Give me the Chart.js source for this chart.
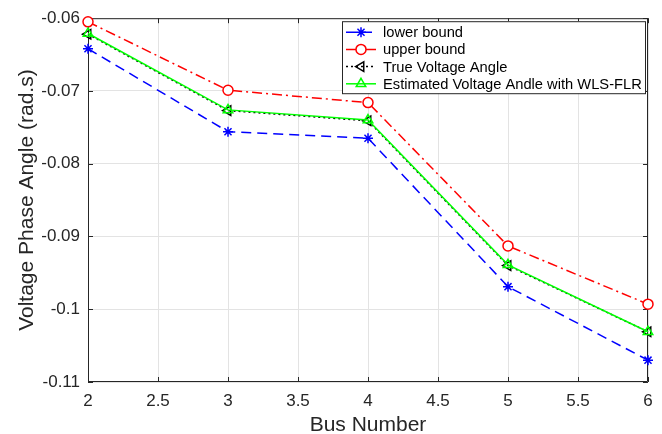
<!DOCTYPE html>
<html>
<head>
<meta charset="utf-8">
<script src="https://cdn.jsdelivr.net/npm/chart.js@4.4.0/dist/chart.umd.min.js"></script>
<style>
  html, body { margin: 0; padding: 0; background: #fff; }
  #wrap { width: 662px; height: 434px; }
</style>
</head>
<body>
<div id="wrap"><canvas id="chart" width="662" height="434"></canvas></div>
<script>
// bus numbers and angles
const busNumbers = [2, 3, 4, 5, 6];
const lowerBound = [-0.0642, -0.0756, -0.0765, -0.0969, -0.1070];
const upperBound = [-0.0605, -0.0699, -0.0716, -0.0913, -0.0993];
const trueAngle = [-0.0622, -0.0727, -0.0741, -0.0940, -0.1031];
const estimatedAngle = [-0.0621, -0.0726, -0.0740, -0.0939, -0.1031];

const xTicks = [2, 2.5, 3, 3.5, 4, 4.5, 5, 5.5, 6];
const yTicks = [-0.11, -0.1, -0.09, -0.08, -0.07, -0.06];

const axisColor = '#262626';
const fontFamily = '"Liberation Sans", Arial, Helvetica, sans-serif';

function toPoints(values) {
  return busNumbers.map((b, i) => ({ x: b, y: values[i] }));
}

const datasets = [
  {
    label: 'lower bound',
    data: toPoints(lowerBound),
    borderColor: '#0000ff',
    borderDash: [10, 6],
    pointStyle: 'star',
    pointRadius: 5,
    order: 3
  },
  {
    label: 'upper bound',
    data: toPoints(upperBound),
    borderColor: '#ff0000',
    borderDash: [10, 4, 2, 4],
    pointStyle: 'circle',
    pointRadius: 5,
    pointBackgroundColor: '#ffffff',
    order: 2
  },
  {
    label: 'True Voltage Angle',
    data: toPoints(trueAngle),
    borderColor: '#000000',
    borderDash: [2, 3],
    pointStyle: 'triangle',
    pointRotation: -90,
    pointRadius: 5.5,
    order: 1
  },
  {
    label: 'Estimated Voltage Andle with WLS-FLR',
    data: toPoints(estimatedAngle),
    borderColor: '#00ff00',
    borderDash: [],
    pointStyle: 'triangle',
    pointRadius: 5.5,
    order: 0
  }
].map(ds => Object.assign({
  borderWidth: 1.5,
  pointBorderColor: ds.borderColor,
  pointBackgroundColor: 'rgba(0,0,0,0)',
  pointBorderWidth: 1.5,
  pointHoverRadius: ds.pointRadius,
  tension: 0,
  fill: false,
  clip: false
}, ds));

// MATLAB style box with inward ticks
const boxPlugin = {
  id: 'box',
  beforeDatasetsDraw(chart) {
    const { ctx, chartArea: a, scales } = chart;
    ctx.save();
    ctx.strokeStyle = axisColor;
    ctx.lineWidth = 1;
    ctx.beginPath();
    ctx.rect(a.left + 0.5, a.top + 0.5, a.right - a.left - 1, a.bottom - a.top - 1);
    const tl = 5;
    xTicks.forEach(v => {
      const px = Math.round(scales.x.getPixelForValue(v)) + 0.5;
      ctx.moveTo(px, a.bottom); ctx.lineTo(px, a.bottom - tl);
      ctx.moveTo(px, a.top); ctx.lineTo(px, a.top + tl);
    });
    yTicks.forEach(v => {
      const py = Math.round(scales.y.getPixelForValue(v)) + 0.5;
      ctx.moveTo(a.left, py); ctx.lineTo(a.left + tl, py);
      ctx.moveTo(a.right, py); ctx.lineTo(a.right - tl, py);
    });
    ctx.stroke();
    ctx.restore();
  }
};

// legend box in the top right corner, line samples with markers
const legendPlugin = {
  id: 'boxLegend',
  afterDraw(chart) {
    const { ctx, chartArea: a } = chart;
    const w = 303, h = 72;
    const x0 = a.right - w - 3, y0 = a.top + 3;
    ctx.save();
    ctx.fillStyle = '#fff';
    ctx.fillRect(x0, y0, w, h);
    ctx.strokeStyle = axisColor;
    ctx.lineWidth = 1;
    ctx.strokeRect(x0 + 0.5, y0 + 0.5, w, h);
    ctx.font = '14.7px ' + fontFamily;
    ctx.textBaseline = 'middle';
    chart.data.datasets.forEach((ds, i) => {
      const y = y0 + 11 + i * 17.2;
      ctx.save();
      ctx.strokeStyle = ds.borderColor;
      ctx.lineWidth = ds.borderWidth;
      ctx.setLineDash(ds.borderDash);
      ctx.beginPath();
      ctx.moveTo(x0 + 4, y);
      ctx.lineTo(x0 + 34, y);
      ctx.stroke();
      ctx.restore();

      ctx.save();
      ctx.strokeStyle = ds.borderColor;
      ctx.fillStyle = ds.pointBackgroundColor;
      ctx.lineWidth = ds.pointBorderWidth;
      ctx.setLineDash([]);
      Chart.helpers.drawPoint(ctx, {
        pointStyle: ds.pointStyle,
        rotation: ds.pointRotation || 0,
        radius: ds.pointRadius,
        borderWidth: ds.pointBorderWidth
      }, x0 + 19, y);
      ctx.restore();

      ctx.fillStyle = '#000';
      ctx.fillText(ds.label, x0 + 41, y + 1);
    });
    ctx.restore();
  }
};

new Chart(document.getElementById('chart'), {
  type: 'line',
  data: { datasets },
  options: {
    responsive: false,
    animation: false,
    events: [],
    layout: { padding: { left: 0, right: 14, top: 18, bottom: 0 } },
    plugins: {
      legend: { display: false },
      tooltip: { enabled: false }
    },
    scales: {
      x: {
        type: 'linear',
        min: 2,
        max: 6,
        afterBuildTicks: (scale) => { scale.ticks = xTicks.map(v => ({ value: v })); },
        afterFit: (scale) => { scale.height = 52; },
        grid: { color: '#e3e3e3', drawTicks: false },
        border: { display: false },
        ticks: {
          color: axisColor,
          padding: 9,
          maxRotation: 0,
          font: { size: 17, family: fontFamily },
          callback: (v) => String(+v.toFixed(2))
        },
        title: {
          display: true,
          text: 'Bus Number',
          color: axisColor,
          padding: 0,
          font: { size: 21, family: fontFamily, lineHeight: 0.8 }
        }
      },
      y: {
        type: 'linear',
        min: -0.11,
        max: -0.06,
        afterBuildTicks: (scale) => { scale.ticks = yTicks.map(v => ({ value: v })); },
        afterFit: (scale) => { scale.width = 88; },
        grid: { color: '#e3e3e3', drawTicks: false },
        border: { display: false },
        ticks: {
          color: axisColor,
          padding: 8,
          font: { size: 17, family: fontFamily },
          callback: (v) => String(+v.toFixed(3))
        },
        title: {
          display: true,
          text: 'Voltage Phase Angle (rad.s)',
          color: axisColor,
          padding: { top: 17, bottom: 0 },
          font: { size: 21, family: fontFamily, lineHeight: 1 }
        }
      }
    }
  },
  plugins: [boxPlugin, legendPlugin]
});
</script>
</body>
</html>
